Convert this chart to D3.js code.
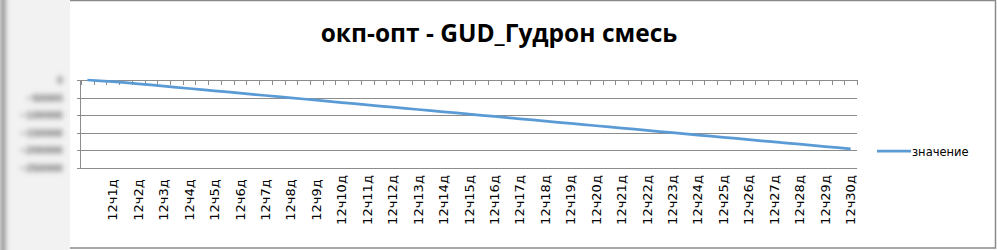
<!DOCTYPE html>
<html>
<head>
<meta charset="utf-8">
<script src="https://cdn.jsdelivr.net/npm/d3@7"></script>
<style>
  body { margin: 0; background: #fff; }
  svg { display: block; }
</style>
</head>
<body>
<div id="wrapper"></div>
<script>
// data (61 half-day points, labels on every second one)
const title = "окп-опт - GUD_Гудрон смесь"
const seriesName = "значение"
const values = [
  0, -2200, -4800, -7600, -10900, -14000, -17400, -20800, -24300, -27600,
  -31000, -34200, -37500, -41000, -44300, -47600, -51000, -54300, -57700, -61000,
  -64400, -67700, -71000, -74400, -77700, -81000, -84300, -87700, -91000, -94200,
  -97500, -100900, -104200, -107500, -110800, -114100, -117400, -120800, -124100, -127400,
  -130700, -134000, -137300, -140600, -143900, -147200, -150500, -153800, -157200, -160500,
  -163800, -167100, -170500, -173800, -177100, -180300, -183500, -186800, -190100, -193500,
  -197000
]
const tickLabels = [
  "12ч1д", "12ч2д", "12ч3д", "12ч4д", "12ч5д", "12ч6д", "12ч7д", "12ч8д", "12ч9д", "12ч10д",
  "12ч11д", "12ч12д", "12ч13д", "12ч14д", "12ч15д", "12ч16д", "12ч17д", "12ч18д", "12ч19д", "12ч20д",
  "12ч21д", "12ч22д", "12ч23д", "12ч24д", "12ч25д", "12ч26д", "12ч27д", "12ч28д", "12ч29д", "12ч30д"
]
const yTicks = [0, -50000, -100000, -150000, -200000, -250000]

const dimensions = {
  width: 997,
  height: 250,
  plotLeft: 81,
  plotRight: 857,
  plotTop: 80,
  plotBottom: 167.5,
}

const svg = d3.select("#wrapper")
  .append("svg")
    .attr("width", dimensions.width)
    .attr("height", dimensions.height)

const defs = svg.append("defs")
defs.append("filter")
    .attr("id", "blur")
    .attr("filterUnits", "userSpaceOnUse")
    .attr("x", -20).attr("y", -20)
    .attr("width", 130).attr("height", 290)
  .append("feGaussianBlur")
    .attr("stdDeviation", 2.5)
defs.append("clipPath")
    .attr("id", "left-clip")
  .append("rect")
    .attr("width", 70)
    .attr("height", dimensions.height)

// frame
svg.append("rect")
    .attr("x", 60.5)
    .attr("y", 0.5)
    .attr("width", 935)
    .attr("height", 247.5)
    .attr("fill", "#fff")
    .attr("stroke", "#8a8a8a")
    .attr("stroke-width", 1.5)

// scales
const xScale = d3.scaleBand()
  .domain(d3.range(values.length))
  .range([dimensions.plotLeft, dimensions.plotRight])
  .padding(0)

const yScale = d3.scaleLinear()
  .domain([d3.min(yTicks), d3.max(yTicks)])
  .range([dimensions.plotBottom, dimensions.plotTop])

const xCenter = i => xScale(i) + xScale.bandwidth() / 2

// gridlines
svg.append("g")
  .selectAll("line")
  .data(yTicks)
  .join("line")
    .attr("x1", dimensions.plotLeft - 4)
    .attr("x2", dimensions.plotRight)
    .attr("y1", d => Math.round(yScale(d)) + 0.5)
    .attr("y2", d => Math.round(yScale(d)) + 0.5)
    .attr("stroke", "#8c8c8c")
    .attr("stroke-width", 1)

// y axis line
svg.append("line")
    .attr("x1", dimensions.plotLeft - 0.5)
    .attr("x2", dimensions.plotLeft - 0.5)
    .attr("y1", dimensions.plotTop)
    .attr("y2", dimensions.plotBottom + 1)
    .attr("stroke", "#8c8c8c")

// category axis sits at zero (top), ticks point down
const boundaries = d3.range(values.length + 1)
svg.append("g")
  .selectAll("line")
  .data(boundaries)
  .join("line")
    .attr("x1", d => Math.round(dimensions.plotLeft + d * xScale.bandwidth()) + 0.5)
    .attr("x2", d => Math.round(dimensions.plotLeft + d * xScale.bandwidth()) + 0.5)
    .attr("y1", yScale(0))
    .attr("y2", yScale(0) + 5)
    .attr("stroke", "#8c8c8c")

// category labels (every second point)
svg.append("g")
  .selectAll("text")
  .data(tickLabels)
  .join("text")
    .attr("transform", (d, i) => `translate(${xCenter((i + 1) * 2) + 4.5},200) rotate(-90)`)
    .attr("text-anchor", "middle")
    .attr("font-family", "DejaVu Sans, sans-serif")
    .attr("font-size", 13)
    .attr("fill", "#000")
    .text(d => d)

// line
const lineGenerator = d3.line()
  .x((d, i) => xCenter(i))
  .y(d => yScale(d))

svg.append("path")
    .datum(values)
    .attr("d", lineGenerator)
    .attr("fill", "none")
    .attr("stroke", "#5b9bd5")
    .attr("stroke-width", 2.75)
    .attr("stroke-linejoin", "round")

// title
svg.append("text")
    .attr("x", 499)
    .attr("y", 42)
    .attr("text-anchor", "middle")
    .attr("font-family", "Open Sans, sans-serif")
    .attr("font-weight", "bold")
    .attr("font-size", 24.5)
    .attr("fill", "#000")
    .text(title)

// legend
const legend = svg.append("g")
    .attr("transform", "translate(877,151)")
legend.append("line")
    .attr("x1", 0)
    .attr("x2", 34)
    .attr("stroke", "#5b9bd5")
    .attr("stroke-width", 2.75)
legend.append("text")
    .attr("x", 35)
    .attr("y", 4.5)
    .attr("font-family", "DejaVu Sans, sans-serif")
    .attr("font-size", 11.5)
    .attr("fill", "#000")
    .text(seriesName)

// left strip of the picture is blurred, value labels included
const blurred = svg.append("g")
    .attr("clip-path", "url(#left-clip)")
  .append("g")
    .attr("filter", "url(#blur)")
blurred.append("rect")
    .attr("x", -10)
    .attr("y", -10)
    .attr("width", 100)
    .attr("height", dimensions.height + 20)
    .attr("fill", "#f2f2f2")
blurred.append("rect")
    .attr("x", 0)
    .attr("y", -10)
    .attr("width", 6)
    .attr("height", dimensions.height + 20)
    .attr("fill", "#8f8f8f")
blurred.selectAll(".y-label")
  .data(yTicks)
  .join("text")
    .attr("class", "y-label")
    .attr("x", 63)
    .attr("y", d => yScale(d) + 4)
    .attr("text-anchor", "end")
    .attr("font-family", "Liberation Sans, sans-serif")
    .attr("font-weight", "bold")
    .attr("font-size", 11)
    .attr("fill", "#444")
    .text(d => d3.format("d")(d))
</script>
</body>
</html>
